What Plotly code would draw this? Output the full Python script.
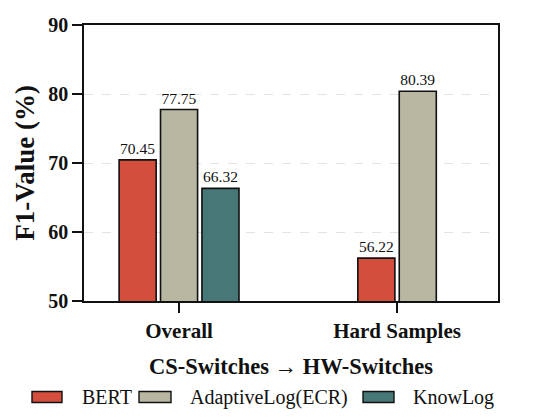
import plotly.graph_objects as go

categories = ["Overall", "Hard Samples"]
series_names = ["BERT", "AdaptiveLog(ECR)", "KnowLog"]
bert = [70.45, 56.22]
adaptive = [77.75, 80.39]
knowlog = [66.32, None]
colors = ["#d44e3e", "#b8b7a2", "#477776"]
y_ticks = [50, 60, 70, 80, 90]

series_values = [bert, adaptive, knowlog]

FONT = "Times New Roman, Liberation Serif, Tinos, serif"
W, H = 548, 417
L, R, T, B = 84, 50, 25, 116
PW, PH = W - L - R, H - T - B

bar_w = 0.17
step = 0.19

fig = go.Figure()
for si, (name, vals, col) in enumerate(zip(series_names, series_values, colors)):
    xs, ys, txt = [], [], []
    for ci, v in enumerate(vals):
        if v is None:
            continue
        present = [k for k in range(len(series_values)) if series_values[k][ci] is not None]
        n = len(present)
        pos = present.index(si)
        off = (pos - (n - 1) / 2) * step
        xs.append(ci + off)
        ys.append(v)
        txt.append(f"{v:.2f}")
    fig.add_trace(go.Bar(
        x=xs, y=ys, width=bar_w, name=name, text=txt,
        textposition="outside", cliponaxis=False,
        textfont=dict(family=FONT, size=15.5, color="#111"),
        marker=dict(color=col, line=dict(color="#111", width=1.6)),
        showlegend=False,
    ))


def px2paper(px, py):
    return (px - L) / PW, (H - B - py) / PH


shapes = []
annotations = []
legend_items = [(32, 62, 80), (139, 171, 188), (363, 394, 411)]
ly = 397
for (x0, x1, tx), name, col in zip(legend_items, series_names, colors):
    a = px2paper(x0, ly - 5.5)
    b = px2paper(x1, ly + 5.5)
    shapes.append(dict(type="rect", xref="paper", yref="paper",
                       x0=a[0], x1=b[0], y0=b[1], y1=a[1],
                       fillcolor=col, line=dict(color="#111", width=1.4)))
    t = px2paper(tx, ly)
    annotations.append(dict(xref="paper", yref="paper", x=t[0], y=t[1],
                            xanchor="left", yanchor="middle", showarrow=False,
                            text=name, font=dict(family=FONT, size=20, color="#111")))

fig.update_layout(
    width=W, height=H,
    margin=dict(l=L, r=R, t=T, b=B, autoexpand=False),
    plot_bgcolor="white", paper_bgcolor="white",
    barmode="overlay",
    shapes=shapes, annotations=annotations,
    font=dict(family=FONT, color="#111"),
    xaxis=dict(
        range=[-0.436, 1.463], tickvals=list(range(len(categories))), ticktext=categories,
        showline=True, linecolor="#111", linewidth=1.6, mirror=True,
        ticks="outside", ticklen=10, tickwidth=1.6, tickcolor="#111",
        tickfont=dict(family=FONT, size=21, weight="bold", color="#111"),
        showgrid=False, zeroline=False,
        title=dict(text="CS-Switches → HW-Switches", standoff=16,
                   font=dict(family=FONT, size=22.5, weight="bold", color="#111")),
    ),
    yaxis=dict(
        range=[50, 90], tickvals=y_ticks,
        showline=True, linecolor="#111", linewidth=1.6, mirror=True,
        ticks="outside", ticklen=10, tickwidth=1.6, tickcolor="#111",
        tickfont=dict(family=FONT, size=20, weight="bold", color="#111"),
        showgrid=True, gridcolor="#e3e3e3", griddash="dash", gridwidth=1,
        zeroline=False,
        title=dict(text="F1-Value (%)", standoff=6,
                   font=dict(family=FONT, size=27, weight="bold", color="#111")),
    ),
)

fig.write_html("out.html", post_script="document.body.style.margin='0';",
               config={"displayModeBar": False})
